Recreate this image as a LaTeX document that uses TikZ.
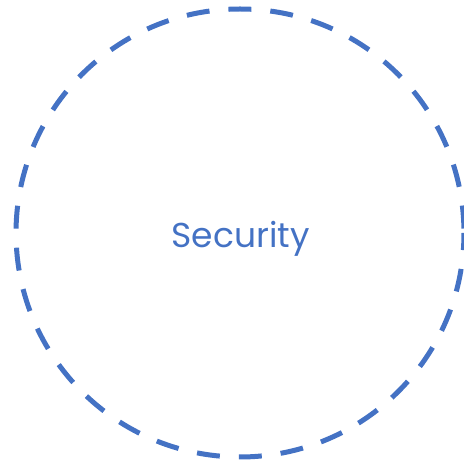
\documentclass[tikz,border=0pt]{standalone}
\usepackage{fontspec}
\setmainfont{Poppins}
\definecolor{secblue}{HTML}{4472C4}
\usepackage{tikz}

\begin{document}
\begin{tikzpicture}[x=1pt,y=1pt,
  ring/.style={draw=secblue,line width=5pt,dash pattern=on 23pt off 19pt,dash phase=37.5pt},
  lbl/.style={text=secblue,font=\fontsize{34.5}{40}\selectfont,inner sep=0pt}]
  \useasboundingbox (0,0) rectangle (464,463);
  \clip (0,0) rectangle (464,463);
  \coordinate (c) at (240,230);
  \draw[ring] (c) circle (224);
  \node[lbl,anchor=base] (sec) at (240.5,215) {Security};
\end{tikzpicture}
\end{document}
